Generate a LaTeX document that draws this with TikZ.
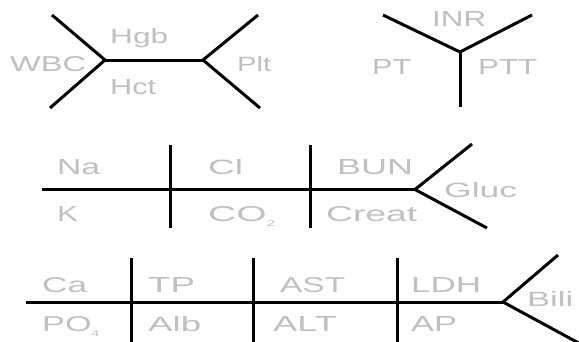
\documentclass[tikz,border=0pt]{standalone}
\usepackage{fontspec}
\setmainfont{Liberation Sans}
\usepackage{graphicx}
\definecolor{labgray}{RGB}{192,192,192}
\newcommand{\lab}[2]{\resizebox{#1pt}{15pt}{#2}}
\newcommand{\subs}[1]{\raisebox{-0.25em}{\fontsize{8}{8}\selectfont #1}}
\begin{document}
\begin{tikzpicture}[x=1pt,y=-1pt,
  lbl/.style={anchor=base west, inner sep=0pt, text=labgray, font=\fontsize{20}{20}\selectfont},
  bone/.style={line width=3pt, draw=black, line join=round}]
\clip (0,0) rectangle (579,341);
\fill[white] (0,0) rectangle (579,341);
% ---------- top left: CBC ----------
\coordinate (jL) at (105,60);
\coordinate (ulL) at (52,15);
\coordinate (llL) at (50,108);
\coordinate (jR) at (203,60);
\coordinate (urR) at (258,15);
\coordinate (lrR) at (260,108);
\draw[bone] (ulL) -- (jL) -- (llL);
\draw[bone] (jL) -- (jR);
\draw[bone] (urR) -- (jR) -- (lrR);
\node[lbl] (wbc) at (10,71) {\lab{76}{WBC}};
\node[lbl] (hgb) at (110,43) {\lab{58}{Hgb}};
\node[lbl] (hct) at (110,94) {\lab{46}{Hct}};
\node[lbl] (plt) at (237,71) {\lab{34}{Plt}};
% ---------- top right: coagulation ----------
\coordinate (jC) at (460,52);
\coordinate (ulC) at (383,15);
\coordinate (urC) at (532,15);
\coordinate (bC) at (460,107);
\draw[bone] (ulC) -- (jC) -- (urC);
\draw[bone] (jC) -- (bC);
\node[lbl] (inr) at (432,26) {\lab{54}{INR}};
\node[lbl] (pt) at (372,74) {\lab{39}{PT}};
\node[lbl] (ptt) at (478,74) {\lab{59}{PTT}};
% ---------- middle: BMP ----------
\coordinate (mS) at (42,189.5);
\coordinate (mJ) at (415,189.5);
\coordinate (mU) at (472,144);
\coordinate (mD) at (487,228);
\coordinate (m1t) at (170,145);
\coordinate (m1b) at (170,228);
\coordinate (m2t) at (310,145);
\coordinate (m2b) at (310,228);
\draw[bone] (mS) -- (mJ);
\draw[bone] (mU) -- (mJ) -- (mD);
\draw[bone] (m1t) -- (m1b);
\draw[bone] (m2t) -- (m2b);
\node[lbl] (na) at (57,174) {\lab{43}{Na}};
\node[lbl] (k) at (57,221) {\lab{21}{K}};
\node[lbl] (cl) at (208,174) {\lab{35}{Cl}};
\node[lbl] (co2) at (208,221) {\lab{67}{CO\subs{2}}};
\node[lbl] (bun) at (337,174) {\lab{76}{BUN}};
\node[lbl] (creat) at (326,221) {\lab{91}{Creat}};
\node[lbl] (gluc) at (444,197) {\lab{73}{Gluc}};
% ---------- bottom: CMP ----------
\coordinate (bS) at (26,302);
\coordinate (bJ) at (503,302);
\coordinate (bU) at (558,255);
\coordinate (bD) at (586,347);
\coordinate (b1t) at (131,258);
\coordinate (b1b) at (131,345);
\coordinate (b2t) at (253,258);
\coordinate (b2b) at (253,345);
\coordinate (b3t) at (397,258);
\coordinate (b3b) at (397,345);
\draw[bone] (bS) -- (bJ);
\draw[bone] (bU) -- (bJ) -- (bD);
\draw[bone] (b1t) -- (b1b);
\draw[bone] (b2t) -- (b2b);
\draw[bone] (b3t) -- (b3b);
\node[lbl] (ca) at (42,292) {\lab{45}{Ca}};
\node[lbl] (po4) at (42,331) {\lab{57}{PO\subs{4}}};
\node[lbl] (tp) at (148,292) {\lab{47}{TP}};
\node[lbl] (alb) at (148,331) {\lab{53}{Alb}};
\node[lbl] (ast) at (280,292) {\lab{65}{AST}};
\node[lbl] (alt) at (273,331) {\lab{64}{ALT}};
\node[lbl] (ldh) at (411,292) {\lab{70}{LDH}};
\node[lbl] (ap) at (411,331) {\lab{46}{AP}};
\node[lbl] (bili) at (527,306) {\lab{46}{Bili}};
\end{tikzpicture}
\end{document}
